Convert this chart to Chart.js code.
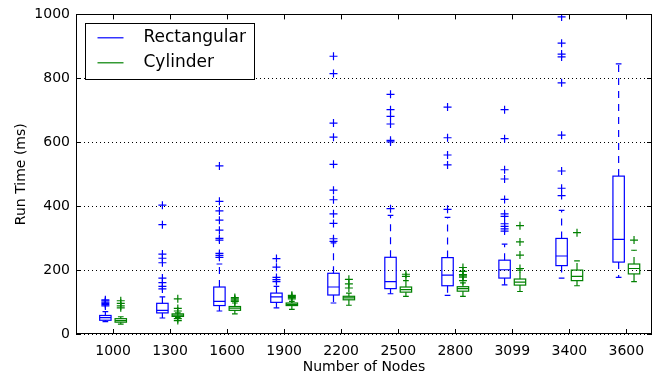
<!DOCTYPE html>
<html lang="en">
<head>
<meta charset="UTF-8">
<title>Run Time vs Number of Nodes</title>
<style>
  body { margin: 0; background: #fff; }
  canvas { display: block; }
</style>
</head>
<body>
<canvas id="chart" width="672" height="374"></canvas>
<script src="https://cdn.jsdelivr.net/npm/chart.js"></script>
<script>
  // categories on the x axis
  const nodeLabels = ['1000', '1300', '1600', '1900', '2200', '2500', '2800', '3099', '3400', '3600'];

  // box stats per category: [low whisker, q1, median, q3, high whisker] (ms)
  const rectStats = [
    [39, 43, 51, 58, 70],
    [50, 66, 74, 96, 116],
    [72, 89, 102, 147, 219],
    [82, 99, 116, 128, 149],
    [97, 122, 147, 190, 285],
    [126, 142, 164, 240, 371],
    [121, 151, 184, 239, 365],
    [154, 175, 201, 231, 281],
    [175, 214, 244, 299, 387],
    [177, 225, 296, 494, 845]
  ];
  const rectOutliers = [
    [88, 92, 96, 100, 104, 107],
    [141, 149, 161, 175, 223, 237, 250, 342, 403],
    [240, 246, 252, 294, 299, 325, 356, 385, 415, 526],
    [164, 170, 177, 209, 236],
    [290, 298, 346, 376, 420, 450, 531, 616, 660, 815, 869],
    [392, 601, 606, 657, 681, 702, 750],
    [390, 529, 560, 614, 710],
    [322, 329, 337, 345, 368, 376, 421, 485, 514, 611, 702],
    [433, 456, 510, 622, 786, 867, 876, 910, 992],
    []
  ];

  const cylStats = [
    [31, 37, 42, 48, 54],
    [52, 55, 59, 63, 66],
    [63, 74, 81, 86, 97],
    [77, 89, 93, 97, 102],
    [90, 107, 113, 118, 128],
    [118, 131, 139, 147, 167],
    [118, 134, 142, 148, 160],
    [133, 153, 162, 172, 200],
    [151, 167, 180, 200, 229],
    [164, 188, 205, 219, 262]
  ];
  const cylOutliers = [
    [82, 88, 96, 104],
    [42, 48, 72, 80, 110],
    [102, 106, 110, 114],
    [110, 114, 118, 121],
    [144, 157, 171],
    [180, 187],
    [167, 178, 182, 186, 196, 208],
    [205, 247, 288, 339],
    [317],
    [294]
  ];

  const BLUE = '#0000ff';
  const GREEN = '#008000';
  const BOX_W = 0.2;     // box width in x units
  const SHIFT = 0.135;   // offset of each box from its tick

  const groups = [
    { label: 'Rectangular', color: BLUE, stats: rectStats, outliers: rectOutliers, off: -SHIFT },
    { label: 'Cylinder', color: GREEN, stats: cylStats, outliers: cylOutliers, off: SHIFT }
  ];

  // outlier points as scatter data
  function outlierPoints(g) {
    const pts = [];
    g.outliers.forEach((vals, i) => vals.forEach(v => pts.push({ x: i + 1 + g.off, y: v })));
    return pts;
  }

  function drawBox(ctx, xs, ys, center, s, color) {
    const [lo, q1, med, q3, hi] = s;
    const xl = xs.getPixelForValue(center - BOX_W / 2);
    const xr = xs.getPixelForValue(center + BOX_W / 2);
    const xc = xs.getPixelForValue(center);
    const cap = (xr - xl) / 4;
    const py = v => ys.getPixelForValue(v);

    ctx.strokeStyle = color;
    ctx.lineWidth = 1.2;
    ctx.setLineDash([]);
    ctx.strokeRect(xl, py(q3), xr - xl, py(q1) - py(q3));
    ctx.beginPath();
    ctx.moveTo(xl, py(med)); ctx.lineTo(xr, py(med));
    ctx.moveTo(xc - cap, py(hi)); ctx.lineTo(xc + cap, py(hi));
    ctx.moveTo(xc - cap, py(lo)); ctx.lineTo(xc + cap, py(lo));
    ctx.stroke();

    // dashed whiskers, drawn outward from the box
    ctx.setLineDash([7, 6]);
    ctx.beginPath();
    ctx.moveTo(xc, py(q3)); ctx.lineTo(xc, py(hi));
    ctx.moveTo(xc, py(q1)); ctx.lineTo(xc, py(lo));
    ctx.stroke();
    ctx.setLineDash([]);
  }

  const boxPlugin = {
    id: 'boxes',
    beforeDatasetsDraw(chart) {
      const { ctx, chartArea, scales: { x, y } } = chart;
      ctx.save();
      ctx.beginPath();
      ctx.rect(chartArea.left, chartArea.top, chartArea.right - chartArea.left, chartArea.bottom - chartArea.top);
      ctx.clip();
      groups.forEach(g => g.stats.forEach((s, i) => drawBox(ctx, x, y, i + 1 + g.off, s, g.color)));
      ctx.restore();
    },
    afterDraw(chart) {
      const { ctx, chartArea: a, scales: { x, y } } = chart;
      ctx.save();
      // frame
      ctx.strokeStyle = '#000';
      ctx.lineWidth = 1;
      ctx.strokeRect(Math.round(a.left) + 0.5, Math.round(a.top) + 0.5,
        Math.round(a.right - a.left) - 1, Math.round(a.bottom - a.top) - 1);
      // inward ticks on all four sides
      ctx.beginPath();
      x.ticks.forEach(t => {
        const px = Math.round(x.getPixelForValue(t.value)) + 0.5;
        ctx.moveTo(px, a.bottom); ctx.lineTo(px, a.bottom - 5);
        ctx.moveTo(px, a.top); ctx.lineTo(px, a.top + 5);
      });
      y.ticks.forEach(t => {
        const py = Math.round(y.getPixelForValue(t.value)) + 0.5;
        ctx.moveTo(a.left, py); ctx.lineTo(a.left + 5, py);
        ctx.moveTo(a.right, py); ctx.lineTo(a.right - 5, py);
      });
      ctx.stroke();

      // legend in upper left corner
      const lx = Math.round(a.left) + 9.5, ly = Math.round(a.top) + 9.5;
      ctx.fillStyle = '#fff';
      ctx.fillRect(lx, ly, 169, 56);
      ctx.strokeRect(lx, ly, 169, 56);
      ctx.font = '17px "DejaVu Sans"';
      ctx.textBaseline = 'middle';
      groups.forEach((g, k) => {
        const yy = ly + 14.3 + k * 25;
        ctx.strokeStyle = g.color;
        ctx.lineWidth = 1.2;
        ctx.beginPath();
        ctx.moveTo(lx + 12, yy); ctx.lineTo(lx + 38, yy);
        ctx.stroke();
        ctx.fillStyle = '#000';
        ctx.fillText(g.label, lx + 58, yy);
      });
      ctx.restore();
    }
  };

  const font = { family: 'DejaVu Sans', size: 14 };

  new Chart(document.getElementById('chart'), {
    type: 'scatter',
    data: {
      datasets: groups.map(g => ({
        label: g.label,
        data: outlierPoints(g),
        pointStyle: 'cross',
        pointRadius: 4,
        pointHoverRadius: 4,
        borderColor: g.color,
        backgroundColor: g.color,
        borderWidth: 1.2
      }))
    },
    options: {
      responsive: false,
      animation: false,
      layout: { padding: { top: 13, right: 20, left: 0, bottom: 0 } },
      plugins: { legend: { display: false }, tooltip: { enabled: false } },
      scales: {
        x: {
          type: 'linear',
          min: 0.35,
          max: 10.45,
          afterBuildTicks: s => { s.ticks = nodeLabels.map((_, i) => ({ value: i + 1 })); },
          afterFit: s => { s.height = 40; },
          ticks: {
            color: '#000', font, padding: 9, maxRotation: 0, autoSkip: false,
            callback: v => nodeLabels[Math.round(v) - 1]
          },
          grid: { display: false, drawTicks: false },
          border: { display: false },
          title: { display: true, text: 'Number of Nodes', color: '#000', font, padding: { top: 0, bottom: -2 } }
        },
        y: {
          min: 0,
          max: 1000,
          afterFit: s => { s.width = 76; },
          ticks: { stepSize: 200, color: '#000', font, padding: 6, callback: v => String(v) },
          grid: { color: '#000', lineWidth: 1, drawTicks: false },
          border: { display: false, dash: [1, 3] },
          title: { display: true, text: 'Run Time (ms)', color: '#000', font, padding: { top: 13, bottom: 0 } }
        }
      }
    },
    plugins: [boxPlugin]
  });
</script>
</body>
</html>
